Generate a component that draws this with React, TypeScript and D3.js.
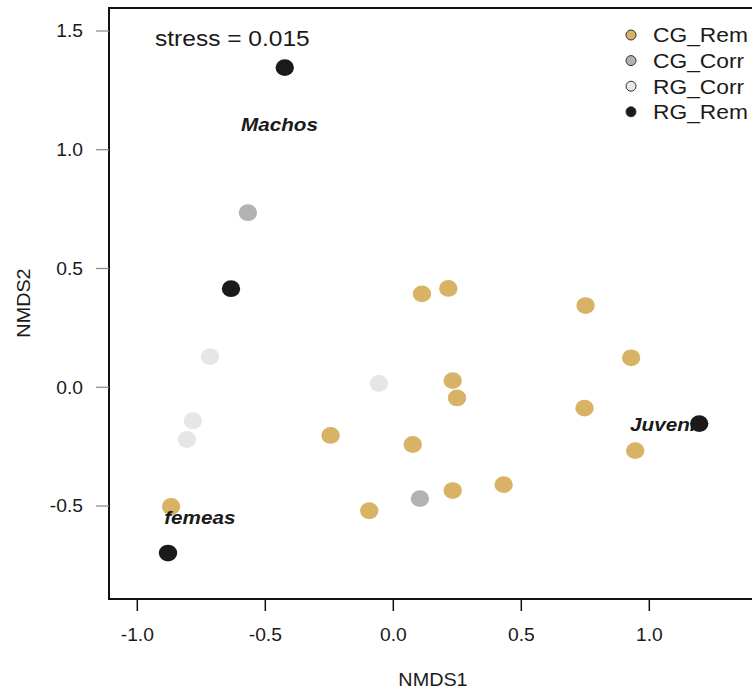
import React from "react";
import * as d3 from "d3";

// NMDS site scores per group
const cgRemX = [-0.868, -0.245, -0.094, 0.112, 0.215, 0.751, 0.232, 0.249, 0.076, 0.232, 0.431, 0.747, 0.929, 0.945];
const cgRemY = [-0.502, -0.203, -0.520, 0.393, 0.416, 0.344, 0.028, -0.045, -0.241, -0.435, -0.410, -0.088, 0.124, -0.267];
const cgCorrX = [-0.568, 0.104];
const cgCorrY = [0.735, -0.469];
const rgCorrX = [-0.716, -0.783, -0.806, -0.056];
const rgCorrY = [0.129, -0.141, -0.220, 0.016];
const rgRemX = [-0.424, -0.634, -0.880, 1.195];
const rgRemY = [1.346, 0.415, -0.698, -0.153];

const groupNames = ["CG_Rem", "CG_Corr", "RG_Corr", "RG_Rem"];
const groupColors = ["#d8b365", "#b2b2b2", "#e6e6e6", "#1a1a1a"];

const xTicks = [-1.0, -0.5, 0.0, 0.5, 1.0];
const yTicks = [-0.5, 0.0, 0.5, 1.0, 1.5];

// group annotations (data coordinates, text start)
const annLabels = ["Machos", "femeas", "Juvenis"];
const annX = [-0.595, -0.895, 0.925];
const annY = [1.079, -0.575, -0.186];

const stressText = "stress = 0.015";

const W = 752;
const H = 690;
const FONT = "'Liberation Sans', Arial, Helvetica, sans-serif";
const SX = 1.1;

const box = { left: 109, top: 8, right: 757, bottom: 599 };

const x = d3.scaleLinear().domain([-1, 1]).range([137.3, 649.3]);
const y = d3.scaleLinear().domain([-0.5, 1.5]).range([506, 31]);

function Txt(props: {
  x: number;
  y: number;
  size: number;
  anchor?: string;
  rotate?: number;
  weight?: string;
  style?: string;
  children: React.ReactNode;
}) {
  const rot = props.rotate ? ` rotate(${props.rotate})` : "";
  return (
    <text
      transform={`translate(${props.x},${props.y})${rot} scale(${SX},1)`}
      fontSize={props.size}
      fontFamily={FONT}
      textAnchor={props.anchor || "start"}
      fontWeight={props.weight || "normal"}
      fontStyle={props.style || "normal"}
      fill="#1a1a1a"
    >
      {props.children}
    </text>
  );
}

export default function App() {
  const groups = [
    { xs: cgRemX, ys: cgRemY },
    { xs: cgCorrX, ys: cgCorrY },
    { xs: rgCorrX, ys: rgCorrY },
    { xs: rgRemX, ys: rgRemY },
  ];
  const drawOrder = [2, 1, 0, 3];

  return (
    <svg
      width={W}
      height={H}
      style={{ position: "absolute", left: 0, top: 0, background: "#fff" }}
    >
      <rect x={0} y={0} width={W} height={H} fill="#fff" />

      {/* points */}
      {drawOrder.map((g) =>
        groups[g].xs.map((v, i) => (
          <ellipse
            key={`${g}-${i}`}
            cx={x(v)}
            cy={y(groups[g].ys[i])}
            rx={9.2}
            ry={8.4}
            fill={groupColors[g]}
          />
        ))
      )}

      {/* annotations */}
      {annLabels.map((t, i) => (
        <Txt key={t} x={x(annX[i])} y={y(annY[i])} size={18.8} weight="bold" style="italic">
          {t}
        </Txt>
      ))}

      {/* frame */}
      <rect
        x={box.left}
        y={box.top}
        width={box.right - box.left}
        height={box.bottom - box.top}
        fill="none"
        stroke="#111"
        strokeWidth={2}
      />

      {/* y axis */}
      {yTicks.map((t) => (
        <g key={`y${t}`}>
          <line x1={96} x2={box.left} y1={y(t)} y2={y(t)} stroke="#888" strokeWidth={1.2} />
          <Txt x={83} y={y(t) + 6.3} size={17.5} anchor="end">
            {t.toFixed(1)}
          </Txt>
        </g>
      ))}

      {/* x axis */}
      {xTicks.map((t) => (
        <g key={`x${t}`}>
          <line x1={x(t)} x2={x(t)} y1={box.bottom} y2={box.bottom + 12} stroke="#111" strokeWidth={1.5} />
          <Txt x={x(t)} y={641} size={17.5} anchor="middle">
            {t.toFixed(1)}
          </Txt>
        </g>
      ))}

      <Txt x={433} y={686} size={18} anchor="middle">
        NMDS1
      </Txt>
      <Txt x={30} y={303} size={18} anchor="middle" rotate={-90}>
        NMDS2
      </Txt>

      <Txt x={155} y={46} size={22.3} anchor="start">
        {stressText}
      </Txt>

      {/* legend */}
      {groupNames.map((n, i) => (
        <g key={n}>
          <circle cx={631} cy={35 + i * 25.6} r={5} fill={groupColors[i]} stroke="#333" strokeWidth={1} />
          <Txt x={653} y={35 + i * 25.6 + 7.3} size={20.7} anchor="start">
            {n}
          </Txt>
        </g>
      ))}
    </svg>
  );
}
